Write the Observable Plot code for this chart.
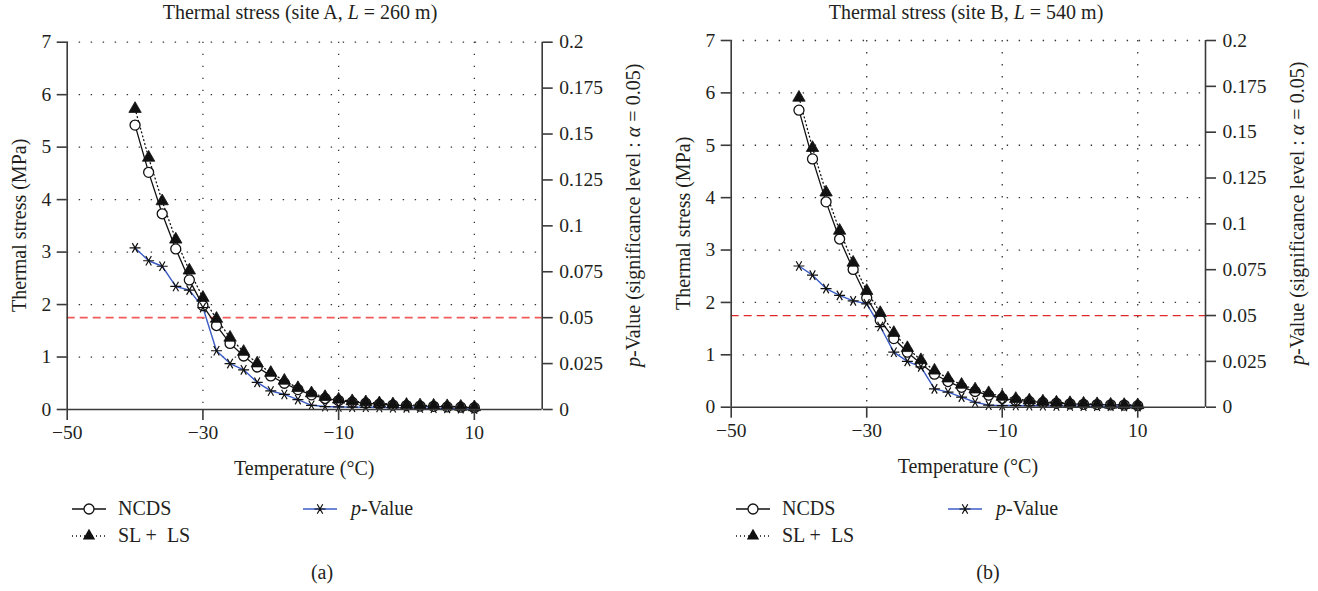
<!DOCTYPE html>
<html>
<head>
<meta charset="utf-8">
<script src="https://cdn.jsdelivr.net/npm/d3@7"></script>
<script src="https://cdn.jsdelivr.net/npm/@observablehq/plot@0.6"></script>
<style>
  html, body { margin: 0; padding: 0; background: #fff; }
  #fig { position: relative; width: 1318px; height: 591px; background: #fff;
         font-family: "Liberation Serif", "DejaVu Serif", serif; color: #231f20; overflow: hidden; }
  #fig svg, #fig svg text { font-family: "Liberation Serif", "DejaVu Serif", serif !important; }
  .abs { position: absolute; white-space: pre; }
  .title { font-size: 20px; transform: translateX(-50%); }
  .cap { font-size: 20px; transform: translateX(-50%); }
  .leg { font-size: 20px; line-height: 20px; }
</style>
</head>
<body>
<div id="fig"></div>
<script>
// ---------- data ----------
const temps = [-40,-38,-36,-34,-32,-30,-28,-26,-24,-22,-20,-18,-16,-14,-12,-10,-8,-6,-4,-2,0,2,4,6,8,10];

const ncdsA = [5.42,4.52,3.73,3.06,2.47,1.98,1.60,1.26,1.02,0.81,0.64,0.50,0.38,0.28,0.21,0.17,0.14,0.12,0.10,0.085,0.075,0.065,0.06,0.05,0.045,0.035];
const sllsA = [5.73,4.80,3.97,3.24,2.65,2.13,1.73,1.37,1.10,0.88,0.70,0.55,0.41,0.31,0.24,0.19,0.16,0.14,0.12,0.10,0.09,0.08,0.075,0.065,0.055,0.045];
const pA    = [0.088,0.081,0.078,0.067,0.065,0.0555,0.032,0.025,0.0216,0.0148,0.0101,0.0082,0.0054,0.0023,0.0016,0.0014,0.0013,0.0012,0.0011,0.0010,0.0009,0.0008,0.0007,0.0006,0.0005,0.0003];

const ncdsB = [5.67,4.74,3.92,3.21,2.63,2.09,1.66,1.31,1.05,0.83,0.63,0.49,0.38,0.30,0.23,0.17,0.13,0.11,0.09,0.075,0.065,0.055,0.05,0.045,0.04,0.03];
const sllsB = [5.91,4.95,4.10,3.37,2.76,2.22,1.80,1.42,1.13,0.90,0.70,0.55,0.43,0.34,0.27,0.20,0.16,0.13,0.11,0.09,0.08,0.07,0.06,0.05,0.045,0.04];
const pB    = [0.077,0.072,0.0647,0.061,0.058,0.0564,0.044,0.030,0.025,0.022,0.010,0.0082,0.0055,0.0027,0.0011,0.0009,0.0009,0.0008,0.0008,0.0007,0.0007,0.0006,0.0005,0.0005,0.0004,0.0003];

const tempTicks = [-50, -30, -10, 10];
const stressTicks = [0, 1, 2, 3, 4, 5, 6, 7];
const pTicks = [0, 0.025, 0.05, 0.075, 0.1, 0.125, 0.15, 0.175, 0.2];
const alpha = 0.05;

const titles = ["Thermal stress (site A, ", "Thermal stress (site B, "];
const lengths = ["260 m)", "540 m)"];
const captions = ["(a)", "(b)"];
const seriesNames = ["NCDS", "SL +  LS", "-Value"];

// ---------- layout ----------
const K = 7 / 0.2; // stress units per p-value unit (secondary axis)
const SVG_TOP = 28, W = 659, H = 452;
const FONT = '"Liberation Serif", "DejaVu Serif", serif';
const panels = [
  { x0: 0,   ncds: ncdsA, slls: sllsA, p: pA, top: 13.7, bottom: 71,   left: 66.7, right: 117.3,
    red: "#f25a5a", redW: 1.8, titleX: 300, leg: {s1: 89, t1: 118, s2: 320, t2: 351}, capX: 322 },
  { x0: 659, ncds: ncdsB, slls: sllsB, p: pB, top: 12,   bottom: 73.3, left: 71.7, right: 113,
    red: "#e02828", redW: 1.3, titleX: 307, leg: {s1: 94, t1: 123, s2: 306, t2: 337}, capX: 329 }
];

const fig = document.getElementById("fig");
const dotted = {stroke: "#333", strokeDasharray: "1.4,10.6", strokeWidth: 1.3};
const fmtP = d => { const v = Math.round(d / K * 1000) / 1000; return v === 0 ? "0" : String(v); };
const fmtT = d => d < 0 ? "\u2212" + Math.abs(d) : String(d);

panels.forEach((c, k) => {
  const rows = temps.map((t, i) => ({t, ncds: c.ncds[i], slls: c.slls[i], p: c.p[i] * K}));
  const chart = Plot.plot({
    width: W, height: H,
    marginTop: c.top, marginBottom: c.bottom, marginLeft: c.left, marginRight: c.right,
    style: {fontFamily: FONT, fontSize: "19.5px", color: "#231f20", background: "transparent", overflow: "visible"},
    x: {domain: [-50, 20]},
    y: {domain: [0, 7]},
    marks: [
      Plot.ruleY(stressTicks.filter(d => d > 0), dotted),
      Plot.ruleX([-30, -10, 10], dotted),
      Plot.ruleY([alpha * K], {stroke: c.red, strokeDasharray: "8,5", strokeWidth: c.redW}),
      Plot.line(rows, {x: "t", y: "ncds", stroke: "#111", strokeWidth: 1.3}),
      Plot.line(rows, {x: "t", y: "slls", stroke: "#111", strokeWidth: 1.3, strokeDasharray: "1,3"}),
      Plot.line(rows, {x: "t", y: "p", stroke: "#3b5cc6", strokeWidth: 1.4}),
      Plot.dot(rows, {x: "t", y: "ncds", symbol: "circle", r: 5, fill: "white", stroke: "#111", strokeWidth: 1.3}),
      Plot.dot(rows, {x: "t", y: "slls", symbol: "triangle", r: 4.6, fill: "#111", stroke: "#111", strokeWidth: 0.8}),
      Plot.dot(rows, {x: "t", y: "p", symbol: "asterisk", r: 5.2, stroke: "#111", strokeWidth: 1.2, rotate: 90}),
      Plot.ruleY([0], {stroke: "#3a3a3a", strokeWidth: 1.6}),
      Plot.ruleX([-50, 20], {stroke: "#3a3a3a", strokeWidth: 1.6}),
      Plot.axisX(tempTicks, {anchor: "bottom", tickSize: 11, tickPadding: 5, label: null, tickFormat: fmtT, stroke: "#3a3a3a", strokeWidth: 1.6}),
      Plot.axisY(stressTicks, {anchor: "left", tickSize: 10, tickPadding: 6, label: null, tickFormat: d => String(d), stroke: "#3a3a3a", strokeWidth: 1.6}),
      Plot.axisY(pTicks.map(p => p * K), {anchor: "right", tickSize: 10, tickPadding: 7, label: null, tickFormat: fmtP, stroke: "#3a3a3a", strokeWidth: 1.6})
    ]
  });

  const panel = document.createElement("div");
  panel.style.cssText = `position:absolute;left:${c.x0}px;top:0;width:${W}px;height:591px;`;
  fig.appendChild(panel);

  chart.style.position = "absolute";
  chart.style.left = "0px";
  chart.style.top = SVG_TOP + "px";
  panel.appendChild(chart);

  const svg = d3.select(chart);
  svg.attr("font-family", FONT).attr("font-size", 19.5)
     .style("font-family", FONT).style("font-size", "19.5px");
  svg.selectAll("g").attr("font-family", null);

  // axis titles (rotated) and x title inside the svg
  const cy = c.top + (H - c.top - c.bottom) / 2;
  svg.append("text")
    .attr("transform", `translate(${c.left - 48},${cy}) rotate(-90)`)
    .attr("text-anchor", "middle").attr("dy", "0.35em")
    .attr("font-size", 20)
    .text("Thermal stress (MPa)");
  const rt = svg.append("text")
    .attr("transform", `translate(${W - c.right + 91.7},${cy - 10}) rotate(-90)`)
    .attr("text-anchor", "middle").attr("dy", "0.35em")
    .attr("font-size", 20);
  rt.append("tspan").attr("font-style", "italic").text("p");
  rt.append("tspan").text("-Value (significance level : ");
  rt.append("tspan").attr("font-style", "italic").text("α");
  rt.append("tspan").text(" = 0.05)");
  svg.append("text")
    .attr("x", c.left + (W - c.left - c.right) / 2)
    .attr("y", H - c.bottom + 66)
    .attr("text-anchor", "middle")
    .attr("font-size", 20)
    .text("Temperature (°C)");
  svg.selectAll("text").attr("fill", "#231f20")
     .attr("font-family", FONT).style("font-family", FONT);

  // title
  const t = document.createElement("div");
  t.className = "abs title";
  t.style.left = c.titleX + "px";
  t.style.top = "1px";
  t.innerHTML = `${titles[k]}<i>L</i> = ${lengths[k]}`;
  panel.appendChild(t);

  // legend
  const L = c.leg;
  const legSym = (cx, cy, inner, line) => {
    const s = document.createElementNS("http://www.w3.org/2000/svg", "svg");
    s.setAttribute("width", 40); s.setAttribute("height", 20);
    s.style.cssText = `position:absolute;left:${cx - 20}px;top:${cy - 10}px;overflow:visible`;
    s.innerHTML = line + inner;
    panel.appendChild(s);
  };
  legSym(L.s1, 509, `<circle cx="20" cy="10" r="5" fill="white" stroke="#111" stroke-width="1.3"/>`,
    `<line x1="3" x2="37" y1="10" y2="10" stroke="#111" stroke-width="1.3"/>`);
  legSym(L.s1, 536, `<path d="${d3.symbol(d3.symbolTriangle, Math.PI * 4.6 * 4.6)()}" transform="translate(20,10)" fill="#111"/>`,
    `<line x1="3" x2="37" y1="10" y2="10" stroke="#111" stroke-width="1.3" stroke-dasharray="1,3"/>`);
  legSym(L.s2, 509, `<path d="${d3.symbol(d3.symbolAsterisk, Math.PI * 5.2 * 5.2)()}" transform="translate(20,10) rotate(90)" fill="none" stroke="#111" stroke-width="1.2"/>`,
    `<line x1="3" x2="37" y1="10" y2="10" stroke="#3b5cc6" stroke-width="1.4"/>`);
  const legText = (x, y, html) => {
    const d = document.createElement("div");
    d.className = "abs leg";
    d.style.left = x + "px"; d.style.top = (y - 11) + "px";
    d.innerHTML = html;
    panel.appendChild(d);
  };
  legText(L.t1, 509, seriesNames[0]);
  legText(L.t1, 536, seriesNames[1]);
  legText(L.t2, 509, `<i>p</i>${seriesNames[2]}`);

  const cap = document.createElement("div");
  cap.className = "abs cap";
  cap.style.left = c.capX + "px";
  cap.style.top = "561px";
  cap.textContent = captions[k];
  panel.appendChild(cap);
});
</script>
</body>
</html>
